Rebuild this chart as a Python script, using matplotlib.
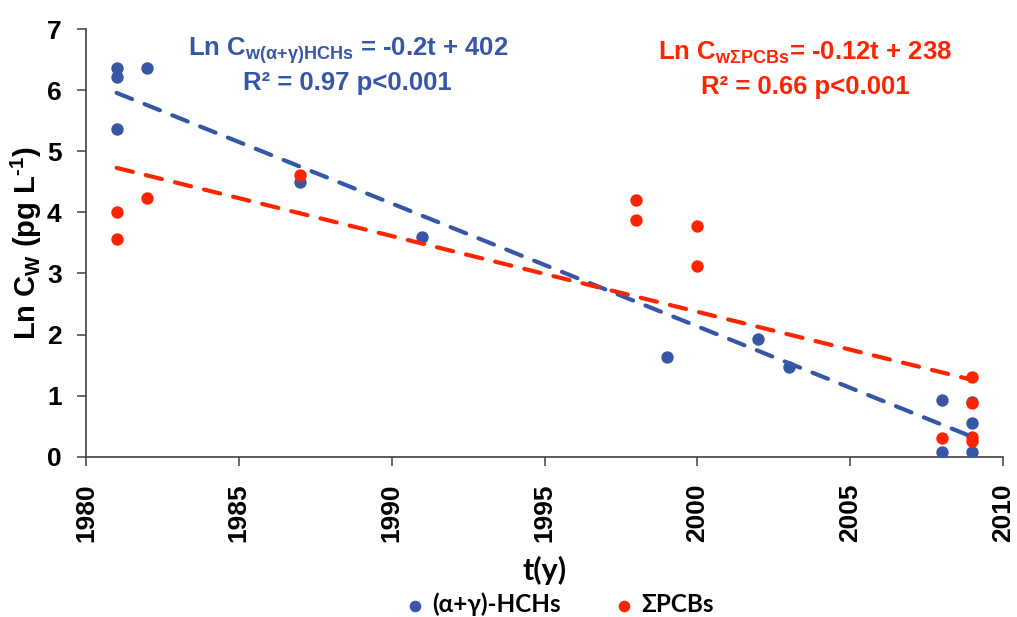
import numpy as np
import matplotlib.pyplot as plt

plt.rcParams['font.family'] = ['Liberation Sans', 'DejaVu Sans']
plt.rcParams['font.weight'] = 'bold'
plt.rcParams['axes.unicode_minus'] = False
plt.rcParams['mathtext.fontset'] = 'custom'
plt.rcParams['mathtext.rm'] = 'Liberation Sans:bold'
plt.rcParams['mathtext.bf'] = 'Liberation Sans:bold'
plt.rcParams['mathtext.it'] = 'Liberation Sans:bold'

BLUE = '#3657A6'
RED = '#FF2400'

# (a+g)-HCHs in water
hch_year = [1981, 1981, 1981, 1982, 1987, 1991, 1999, 2002, 2003,
            2008, 2008, 2009, 2009, 2009]
hch_ln = [6.36, 6.22, 5.36, 6.36, 4.50, 3.59, 1.63, 1.93, 1.46,
          0.92, 0.08, 0.90, 0.55, 0.08]

# sum of PCBs in water
pcb_year = [1981, 1981, 1982, 1987, 1998, 1998, 2000, 2000,
            2008, 2009, 2009, 2009, 2009]
pcb_ln = [4.00, 3.56, 4.23, 4.61, 4.21, 3.87, 3.78, 3.13,
          0.30, 1.31, 0.87, 0.32, 0.25]

x_ticks = [1980, 1985, 1990, 1995, 2000, 2005, 2010]
y_ticks = [0, 1, 2, 3, 4, 5, 6, 7]

fig = plt.figure(figsize=(10.17, 6.17), dpi=100)
ax = fig.add_axes([0.0846, 0.260, 0.9016, 0.6925])

ax.scatter(hch_year, hch_ln, s=80, color=BLUE, zorder=3, linewidths=0)
ax.scatter(pcb_year, pcb_ln, s=80, color=RED, zorder=4, linewidths=0)

# linear trends
for yrs, vals, c in [(hch_year, hch_ln, BLUE), (pcb_year, pcb_ln, RED)]:
    k, b = np.polyfit(yrs, vals, 1)
    xs = np.array([min(yrs), max(yrs)])
    ax.plot(xs, k * xs + b, color=c, lw=3, dashes=(4, 3.2),
            solid_capstyle='round', dash_capstyle='round', zorder=5)

ax.set_xlim(1980, 2010)
ax.set_ylim(0, 7)
ax.set_xticks(x_ticks)
ax.set_yticks(y_ticks)
ax.tick_params(axis='both', direction='out', length=6.5, width=1.1,
               color='#404040', labelsize=19, pad=11)
ax.tick_params(axis='x', labelrotation=90, pad=13)
for lab in ax.get_xticklabels() + ax.get_yticklabels():
    lab.set_fontweight('bold')
for side in ['top', 'right']:
    ax.spines[side].set_visible(False)
for side in ['left', 'bottom']:
    ax.spines[side].set_color('#404040')
    ax.spines[side].set_linewidth(1.2)

ax.set_ylabel(r'Ln C$_{\mathbf{W}}$ (pg L$^{\text{-1}}$)', fontsize=21,
              fontweight='bold', labelpad=2)
ax.set_xlabel('t(y)', fontsize=22, fontweight='bold',
              family=['Lato', 'Open Sans', 'DejaVu Sans'], labelpad=10)

eq_size = 18.5
fig.text(0.342, 0.918, r'Ln C$_{\mathbf{w(α{+}γ)HCHs}}$ = -0.2t + 402',
         color=BLUE, fontsize=eq_size, ha='center', va='center')
fig.text(0.342, 0.865, 'R² = 0.97 p<0.001', color=BLUE, fontsize=eq_size,
         ha='center', va='center')
fig.text(0.792, 0.914, r'Ln C$_{\mathbf{wΣPCBs}}$= -0.12t + 238',
         color=RED, fontsize=eq_size, ha='center', va='center')
fig.text(0.792, 0.859, 'R² = 0.66 p<0.001', color=RED, fontsize=eq_size,
         ha='center', va='center')

h1 = ax.scatter([], [], s=70, color=BLUE, linewidths=0)
h2 = ax.scatter([], [], s=70, color=RED, linewidths=0)
fig.legend([h1, h2], ['(α+γ)-HCHs', 'ΣPCBs'], loc='center',
           bbox_to_anchor=(0.548, 0.020), ncol=2, frameon=False,
           handletextpad=0.1, columnspacing=2.0, handlelength=1.2,
           prop={'family': ['Lato', 'Open Sans', 'DejaVu Sans'],
                 'weight': 'bold', 'size': 17.5})

fig.savefig('out.png', dpi=100)
